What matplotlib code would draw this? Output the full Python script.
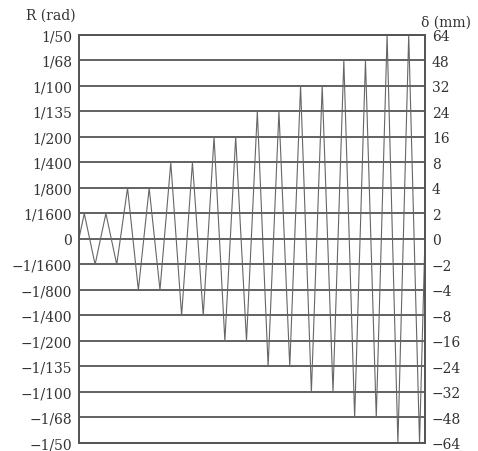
import matplotlib.pyplot as plt
import numpy as np

# drift levels (equally spaced on the chart, index 0 = zero)
r_labels = ["1/50", "1/68", "1/100", "1/135", "1/200", "1/400", "1/800", "1/1600", "0",
            "\u22121/1600", "\u22121/800", "\u22121/400", "\u22121/200", "\u22121/135",
            "\u22121/100", "\u22121/68", "\u22121/50"]
d_labels = ["64", "48", "32", "24", "16", "8", "4", "2", "0",
            "\u22122", "\u22124", "\u22128", "\u221216", "\u221224", "\u221232", "\u221248", "\u221264"]
levels = [8, 7, 6, 5, 4, 3, 2, 1, 0, -1, -2, -3, -4, -5, -6, -7, -8]

# amplitude (level index) of each loading cycle
cycle_amp = [1, 1, 2, 2, 3, 3, 4, 4, 5, 5, 6, 6, 7, 7, 8, 8]

t = [0]
y = [0]
for i, a in enumerate(cycle_amp):
    t += [4 * i + 1, 4 * i + 3]
    y += [a, -a]
t.append(4 * len(cycle_amp))
y.append(0)

plt.rcParams['font.family'] = ['DejaVu Serif']
fig = plt.figure(figsize=(4.78, 4.52), dpi=100)
ax = fig.add_axes([0.165, 0.0177, 0.724, 0.9027])

for lv in levels:
    ax.axhline(lv, color="#555555", lw=1.3, zorder=1)
ax.plot(t, y, color="#666666", lw=0.8, zorder=2)

ax.set_xlim(0, 4 * len(cycle_amp))
ax.set_ylim(-8, 8)
ax.set_xticks([])
ax.set_yticks(levels)
ax.set_yticklabels(r_labels, fontsize=10, color="#333333")
ax.tick_params(axis="y", length=0, pad=5)

ax2 = ax.twinx()
ax2.set_ylim(-8, 8)
ax2.set_yticks(levels)
ax2.set_yticklabels(d_labels, fontsize=10, color="#333333")
ax2.tick_params(axis="y", length=0, pad=5)

for a in (ax, ax2):
    for s in a.spines.values():
        s.set_color("#555555")
        s.set_linewidth(1.3)

fig.text(0.055, 0.965, "R (rad)", fontsize=10, color="#333333", va="center")
fig.text(0.985, 0.95, "\u03b4 (mm)", fontsize=10, color="#333333", va="center", ha="right")

fig.savefig("out.png", dpi=100)
